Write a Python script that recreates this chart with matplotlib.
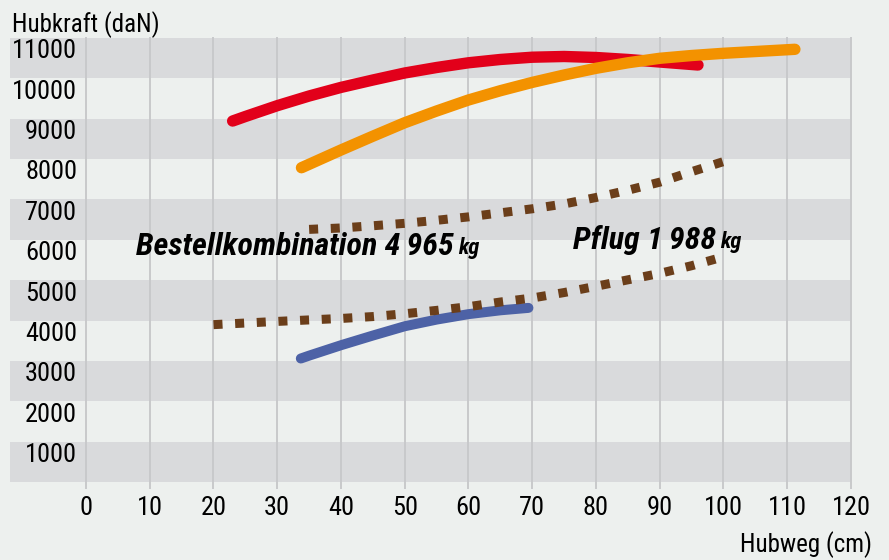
import numpy as np
import matplotlib
matplotlib.use("Agg")
import matplotlib.pyplot as plt

# ------------------------------------------------------------
# Daten
# ------------------------------------------------------------
x_ticks = [0, 10, 20, 30, 40, 50, 60, 70, 80, 90, 100, 110, 120]
y_ticks = [1000, 2000, 3000, 4000, 5000, 6000, 7000, 8000, 9000, 10000, 11000]

rot_x = [23, 25, 30, 35, 40, 45, 50, 55, 60, 65, 70, 75, 80, 85, 90, 96]
rot_y = [9275, 9387, 9655, 9895, 10108, 10291, 10465, 10601, 10718, 10800,
         10856, 10874, 10849, 10800, 10737, 10663]

orange_x = [33.8, 35, 40, 45, 50, 55, 60, 65, 70, 75, 80, 85, 90, 95, 100, 105, 111.2]
orange_y = [8118, 8203, 8557, 8899, 9233, 9523, 9796, 10026, 10232, 10415, 10581,
            10718, 10829, 10898, 10953, 10997, 11052]

blau_x = [33.7, 35, 40, 45, 50, 55, 60, 65, 69.4]
blau_y = [3391, 3462, 3720, 3960, 4190, 4355, 4490, 4585, 4645]

bestell_x = [35, 40, 45, 50, 55, 60, 65, 70, 75, 80, 85, 90, 95, 100]
bestell_y = [6590, 6625, 6680, 6740, 6815, 6900, 7000, 7100, 7220, 7380, 7560, 7760, 8020, 8270]

pflug_x = [20, 25, 30, 35, 40, 45, 50, 55, 60, 65, 70, 75, 80, 85, 90, 95, 100]
pflug_y = [4230, 4270, 4310, 4347, 4383, 4430, 4500, 4583, 4675, 4790, 4890, 5025,
           5180, 5340, 5500, 5690, 5910]

# ------------------------------------------------------------
# Stil
# ------------------------------------------------------------
FONT = ["DejaVu Sans Condensed", "Noto Sans Condensed", "Roboto Condensed",
        "Liberation Sans Narrow", "Roboto", "DejaVu Sans"]
plt.rcParams["font.family"] = FONT
plt.rcParams["font.stretch"] = "condensed"

BG = "#edf0ee"
BAND = "#d9dadc"
GRID = "#c8c9cb"

fig = plt.figure(figsize=(8.89, 5.6), dpi=100, facecolor=BG)
ax = fig.add_axes([10 / 889, 78 / 560, 841 / 889, 444 / 560])
ax.set_facecolor(BG)

y_lo, y_hi = 331, 11332
ax.set_xlim(-11.92, 120)
ax.set_ylim(y_lo, y_hi)

# graue Baender
for k in range(11):
    if k % 2 == 0:
        ax.axhspan(y_lo + k * 1000, y_lo + (k + 1) * 1000, color=BAND, lw=0, zorder=0)

# senkrechte Gitterlinien
for xv in x_ticks:
    ax.axvline(xv, ymin=-0.014, ymax=1, color=GRID, lw=1.4, clip_on=False, zorder=1)

# Kurven
ax.plot(rot_x, rot_y, color="#e2001a", lw=8.2, solid_capstyle="round",
        solid_joinstyle="round", zorder=3)
ax.plot(orange_x, orange_y, color="#f39200", lw=8.2, solid_capstyle="round",
        solid_joinstyle="round", zorder=4)
ax.plot(blau_x, blau_y, color="#4d62a6", lw=7.2, solid_capstyle="round",
        solid_joinstyle="round", zorder=3)
ax.plot(bestell_x, bestell_y, color="#6b3e1a", lw=6.5, linestyle=(0, (1, 1.4)),
        dash_capstyle="butt", zorder=5)
ax.plot(pflug_x, pflug_y, color="#6b3e1a", lw=6.5, linestyle=(0, (1, 1.4)),
        dash_capstyle="butt", zorder=5)

# Achsen
for s in ax.spines.values():
    s.set_visible(False)
ax.set_yticks([])
ax.set_xticks(x_ticks)
ax.set_xticklabels([str(v) for v in x_ticks])
ax.tick_params(axis="x", length=0, pad=10, labelsize=19)

for yv in y_ticks:
    ax.text(-1.4, yv, str(yv), ha="right", va="center", fontsize=19, zorder=6)

fig.text(12 / 889, 1 - 24.5 / 560, "Hubkraft (daN)", ha="left", va="center", fontsize=18)
fig.text(872 / 889, 1 - 545 / 560, "Hubweg (cm)", ha="right", va="center", fontsize=18)

# Beschriftungen der Kurven
t1 = fig.text(136 / 889, 1 - 255 / 560, "Bestellkombination 4\u2009965", fontsize=23,
              fontweight="bold", fontstyle="italic", va="baseline", zorder=7)
ax.annotate("kg", xy=(1, 0), xycoords=t1, xytext=(3, 1.5), textcoords="offset points",
            fontsize=16, fontweight="bold", fontstyle="italic", va="bottom", ha="left")

t2 = fig.text(573 / 889, 1 - 249 / 560, "Pflug 1\u2009988", fontsize=23,
              fontweight="bold", fontstyle="italic", va="baseline", zorder=7)
ax.annotate("kg", xy=(1, 0), xycoords=t2, xytext=(3, 1.5), textcoords="offset points",
            fontsize=16, fontweight="bold", fontstyle="italic", va="bottom", ha="left")

fig.savefig("out.png", dpi=100, facecolor=BG)
